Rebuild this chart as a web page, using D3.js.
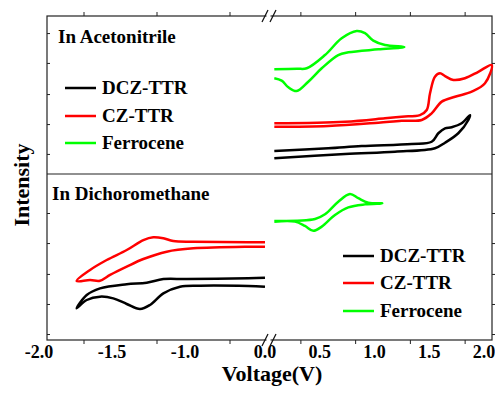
<!DOCTYPE html>
<html>
<head>
<meta charset="utf-8">
<script src="https://cdn.jsdelivr.net/npm/d3@7"></script>
<style>
body { margin: 0; background: #fff; }
svg text { font-family: "Liberation Serif", "Times New Roman", "DejaVu Serif", serif; font-weight: bold; fill: #000; }
</style>
</head>
<body>
<div id="chart"></div>
<script>
// CV data, [voltage (V), intensity (arb.)]
// acetonitrile panel, all on the 0..2 V segment
var acnDCZ = [[0.012,0.99],[0.658,1.27],[1.114,1.41],[1.479,1.63],[1.571,1.98],[1.692,2.58],[1.784,3.42],[1.799,3.73],
  [1.723,3.21],[1.632,2.96],[1.571,2.89],[1.510,2.58],[1.449,2.04],[1.267,1.90],[0.810,1.77],[0.505,1.63],[0.012,1.46]];
var acnCZ = [[0.012,2.99],[0.505,3.04],[0.962,3.25],[1.175,3.37],[1.358,3.42],[1.449,3.84],[1.541,4.58],[1.662,4.89],
  [1.815,5.21],[1.936,5.74],[1.997,6.90],[1.875,6.47],[1.753,6.06],[1.647,5.95],[1.571,6.20],[1.525,6.37],[1.479,6.16],
  [1.434,5.11],[1.404,4.05],[1.342,3.73],[1.175,3.63],[1.023,3.53],[0.658,3.31],[0.012,3.21]];
var acnFc = [[0.012,6.63],[0.22,6.66],[0.308,6.69],[0.475,7.53],[0.627,8.59],[0.764,9.05],[0.84,8.91],[0.916,8.44],
  [1.023,8.16],[1.199,8.04],[0.962,7.89],[0.688,7.70],[0.596,7.53],[0.445,6.69],[0.322,5.84],[0.216,5.25],
  [0.14,5.49],[0.079,5.91],[0.012,6.06]];

// dichloromethane panel: DCZ/CZ on the -2..-0.5 segment, ferrocene on 0..2
var dcmDCZ = [[-0.507,3.75],[-0.621,3.72],[-1.043,3.67],[-1.203,3.67],[-1.317,3.45],[-1.454,3.36],[-1.637,3.11],
  [-1.728,2.71],[-1.797,1.91],[-1.728,2.41],[-1.637,2.61],[-1.546,2.51],[-1.454,2.17],[-1.363,1.87],[-1.295,2.11],
  [-1.203,2.81],[-1.089,3.21],[-0.952,3.27],[-0.621,3.25],[-0.507,3.21]];
var dcmCZ = [[-0.507,5.89],[-0.621,5.89],[-0.998,5.92],[-1.135,5.96],[-1.203,6.13],[-1.272,6.19],[-1.340,6.02],
  [-1.454,5.42],[-1.591,4.82],[-1.705,4.22],[-1.797,3.55],[-1.705,3.61],[-1.637,3.57],[-1.568,3.92],[-1.454,4.42],
  [-1.340,4.88],[-1.180,5.32],[-0.998,5.52],[-0.621,5.62],[-0.507,5.62]];
var dcmFc = [[0.012,7.17],[0.384,7.29],[0.475,7.57],[0.596,8.33],[0.703,8.80],[0.779,8.54],[0.870,8.27],[0.998,8.23],
  [0.84,8.17],[0.688,7.99],[0.566,7.53],[0.445,6.83],[0.368,6.58],[0.292,6.87],[0.201,7.13],[0.012,7.13]];

var seriesNames = ["DCZ-TTR", "CZ-TTR", "Ferrocene"];
var seriesColors = ["#000000", "#ff0000", "#00ff00"];

// tick values
var leftLabels = [-2.0, -1.5, -1.0];
var leftMinor = [-1.75, -1.25, -0.75];
var rightLabels = [0.0, 0.5, 1.0, 1.5, 2.0];
var rightMinor = [0.25, 0.75, 1.25, 1.75];
var topYTicks = [1.27, 3.16, 5.06, 7.03, 8.92];
var botYTicks = [0.36, 2.17, 3.98, 5.84, 7.65];

var width = 495, height = 394;
// note: "top" is a reserved window property, so use p* names
var pLeft = 47, pRight = 492, pTop = 16, pMid = 174, pBottom = 340;
var serif = '"Liberation Serif", "Times New Roman", "DejaVu Serif", serif';

var svg = d3.select("#chart").append("svg")
  .attr("width", width)
  .attr("height", height)
  .attr("font-family", serif)
  .attr("font-weight", "bold");

// broken x axis: two linear pieces
var xL = d3.scaleLinear().domain([-2.0, -0.5]).range([pLeft, 266]);
var xR = d3.scaleLinear().domain([0.0, 2.0]).range([273, pRight]);
var yTop = d3.scaleLinear().domain([0, 10]).range([pMid, pTop]);
var yBot = d3.scaleLinear().domain([0, 10]).range([pBottom, pMid]);

function lineFor(xs, ys) {
  return d3.line()
    .x(function(d) { return xs(d[0]); })
    .y(function(d) { return ys(d[1]); })
    .curve(d3.curveCatmullRom.alpha(0.5));
}

// ticks (drawn with axis generators, no domain path)
function ticks(g) {
  g.select(".domain").remove();
  g.selectAll(".tick line").attr("stroke", "#222").attr("stroke-width", 1);
}
svg.append("g").attr("transform", "translate(0," + pBottom + ")")
  .call(d3.axisBottom(xL).tickValues(leftMinor).tickSize(4).tickFormat("")).call(ticks);
svg.append("g").attr("transform", "translate(0," + pBottom + ")")
  .call(d3.axisBottom(xR).tickValues(rightMinor).tickSize(4).tickFormat("")).call(ticks);
svg.append("g").attr("transform", "translate(0," + pTop + ")")
  .call(d3.axisTop(xL).tickValues(leftMinor).tickSize(4).tickFormat("")).call(ticks);
svg.append("g").attr("transform", "translate(0," + pTop + ")")
  .call(d3.axisTop(xR).tickValues(rightMinor).tickSize(4).tickFormat("")).call(ticks);
[[yTop, topYTicks], [yBot, botYTicks]].forEach(function(p) {
  svg.append("g").attr("transform", "translate(" + pLeft + ",0)")
    .call(d3.axisLeft(p[0]).tickValues(p[1]).tickSize(-3).tickFormat("")).call(ticks);
  svg.append("g").attr("transform", "translate(" + pRight + ",0)")
    .call(d3.axisRight(p[0]).tickValues(p[1]).tickSize(4).tickFormat("")).call(ticks);
});

// frame + divider
svg.append("rect")
  .attr("x", pLeft).attr("y", pTop)
  .attr("width", pRight - pLeft).attr("height", pBottom - pTop)
  .attr("fill", "none").attr("stroke", "#222").attr("stroke-width", 1.2);
svg.append("line")
  .attr("x1", pLeft).attr("x2", pRight).attr("y1", pMid).attr("y2", pMid)
  .attr("stroke", "#222").attr("stroke-width", 1.2);

// break marks
[pTop, pBottom].forEach(function(yy) {
  svg.append("rect").attr("x", 266.5).attr("y", yy - 2).attr("width", 4).attr("height", 4).attr("fill", "#fff");
  [262, 270].forEach(function(xx) {
    svg.append("line")
      .attr("x1", xx).attr("y1", yy + 6).attr("x2", xx + 6).attr("y2", yy - 6)
      .attr("stroke", "#111").attr("stroke-width", 1.2);
  });
});

// curves
var curves = [
  [acnDCZ, xR, yTop, 0], [acnCZ, xR, yTop, 1], [acnFc, xR, yTop, 2],
  [dcmDCZ, xL, yBot, 0], [dcmCZ, xL, yBot, 1], [dcmFc, xR, yBot, 2]
];
curves.forEach(function(c) {
  svg.append("path")
    .datum(c[0])
    .attr("d", lineFor(c[1], c[2]))
    .attr("fill", "none")
    .attr("stroke", seriesColors[c[3]])
    .attr("stroke-width", 2.5)
    .attr("stroke-linejoin", "round");
});

// x tick labels (sit a bit left of their tick, as in the figure)
leftLabels.forEach(function(v) {
  svg.append("text").attr("x", xL(v) - 8).attr("y", 358)
    .attr("text-anchor", "middle").style("font-size", "18px").text(v.toFixed(1));
});
rightLabels.forEach(function(v) {
  svg.append("text").attr("x", xR(v) - 8).attr("y", 358)
    .attr("text-anchor", "middle").style("font-size", "18px").text(v.toFixed(1));
});

// axis titles
svg.append("text").attr("x", 272).attr("y", 381)
  .attr("text-anchor", "middle").style("font-size", "22px").text("Voltage(V)");
svg.append("text").attr("transform", "translate(29,185)rotate(-90)")
  .attr("text-anchor", "middle").style("font-size", "22px").text("Intensity");

// panel titles
svg.append("text").attr("x", 58).attr("y", 43).style("font-size", "19px").text("In Acetonitrile");
svg.append("text").attr("x", 52).attr("y", 200).style("font-size", "19px").text("In Dichoromethane");

// legends
function legend(x0, ys) {
  seriesNames.forEach(function(name, i) {
    svg.append("line")
      .attr("x1", x0).attr("x2", x0 + 31).attr("y1", ys[i]).attr("y2", ys[i])
      .attr("stroke", seriesColors[i]).attr("stroke-width", 2.5);
    svg.append("text").attr("x", x0 + 37).attr("y", ys[i] + 6)
      .style("font-size", "19px").text(name);
  });
}
legend(65, [88, 116, 143]);
legend(343, [256, 283, 311]);
</script>
</body>
</html>
